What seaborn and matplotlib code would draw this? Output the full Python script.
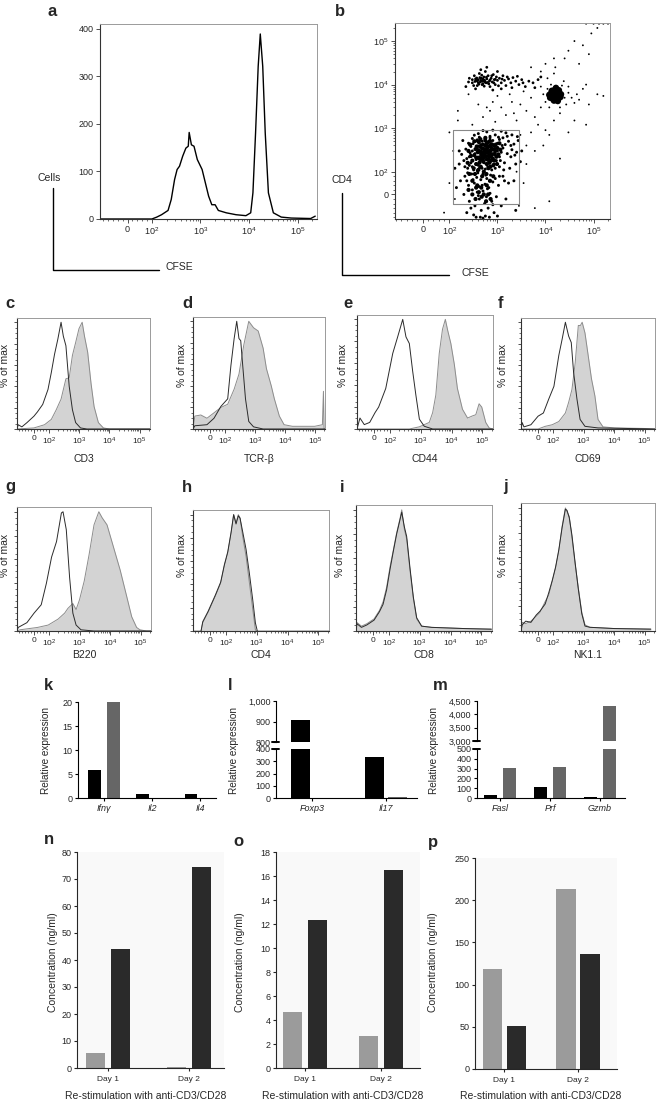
import pandas as pd
import matplotlib
matplotlib.use('Agg')
import matplotlib.pyplot as plt
import seaborn as sns
from matplotlib.lines import Line2D
from matplotlib.ticker import FixedLocator, NullFormatter

# ---------------- data ----------------
# a: CFSE histogram (CFSE, cells)
a_hist = [(-117, 0), (100, 0), (126, 4), (158, 9), (215, 18), (250, 41), (293, 83), (330, 104),
          (370, 111), (430, 132), (500, 149), (560, 153), (585, 182), (650, 156), (735, 153),
          (860, 125), (1080, 104), (1260, 76), (1470, 48), (1710, 30), (2000, 30), (2330, 18),
          (3400, 13), (5400, 9), (8600, 7), (10800, 13), (12000, 55), (13600, 181), (15400, 321),
          (17000, 389), (19100, 321), (21500, 181), (25000, 55), (31600, 13), (46000, 4),
          (74000, 2), (185000, 1), (230000, 6)]

# b: CFSE vs CD4 dot plot
gate = [120, 2750, -43, 900]  # CFSE from/to, CD4 from/to
low_pts = [(400, 750), (600, 820), (900, 700), (1200, 850), (700, 650), (1500, 780), (500, 880),
           (2000, 700), (330, 690), (1050, 620), (800, 900), (2600, 640), (250, 450), (350, 500),
           (450, 420), (550, 560), (650, 480), (800, 520), (1000, 450), (1300, 600), (1700, 500),
           (2200, 430), (300, 580), (700, 600), (900, 380), (1100, 550), (600, 400), (420, 620),
           (380, 540), (750, 440), (480, 500), (1450, 420), (190, 520), (2700, 520), (180, 250),
           (220, 330), (260, 220), (300, 300), (340, 260), (380, 350), (420, 220), (460, 300),
           (500, 250), (550, 340), (600, 230), (650, 290), (700, 370), (750, 260), (820, 320),
           (900, 240), (1000, 300), (1100, 220), (1300, 350), (1600, 260), (2000, 320), (2500, 280),
           (280, 380), (400, 390), (520, 200), (620, 360), (780, 210), (350, 210), (450, 360),
           (580, 280), (680, 220), (850, 390), (160, 300), (1200, 280), (1900, 220), (3200, 300),
           (160, 150), (200, 180), (240, 120), (280, 160), (320, 110), (360, 190), (400, 140),
           (440, 170), (480, 120), (530, 160), (580, 190), (630, 130), (700, 170), (760, 110),
           (840, 150), (950, 180), (1100, 130), (1400, 160), (1800, 120), (2400, 150), (230, 200),
           (300, 130), (380, 105), (460, 190), (560, 115), (660, 175), (900, 120), (260, 140),
           (420, 120), (500, 185), (130, 120), (3000, 170), (170, 60), (210, 80), (250, 40),
           (290, 90), (330, 50), (370, 75), (410, 35), (450, 65), (500, 90), (550, 45), (600, 70),
           (660, 30), (720, 85), (800, 55), (900, 70), (1050, 40), (1300, 80), (1700, 50), (240, 95),
           (310, 65), (390, 95), (480, 40), (570, 85), (680, 60), (140, 30), (2200, 60), (200, 0),
           (260, -30), (300, 20), (340, -50), (380, 10), (420, -20), (460, -70), (500, 15),
           (540, -40), (590, -10), (640, -60), (700, 5), (760, -30), (850, -80), (950, -10),
           (1200, -50), (320, -90), (440, -100), (560, -95), (680, -100), (280, -60), (400, -5),
           (620, 25), (800, -45), (1500, -20), (230, -80), (360, -100), (500, -105), (1000, -95),
           (2400, -70), (1150, 180), (1250, 400), (1350, 110), (1600, 650), (1900, 400),
           (2300, 240), (270, 270), (310, 440), (210, 130), (230, 60), (1400, 60), (1100, 80)]
core_pts = [(300, 180), (330, 240), (360, 150), (390, 280), (420, 200), (450, 130), (480, 260),
            (510, 170), (540, 320), (570, 220), (600, 150), (630, 270), (660, 200), (700, 300),
            (740, 180), (780, 250), (820, 140), (860, 330), (350, 330), (400, 110), (440, 380),
            (470, 210), (520, 100), (560, 400), (610, 340), (650, 120), (690, 240), (720, 400),
            (760, 320), (800, 200), (880, 260), (320, 120), (380, 210), (430, 290), (490, 340),
            (550, 260), (590, 90), (640, 380), (680, 160), (730, 230), (340, 90), (410, 310),
            (460, 250), (530, 230), (580, 310), (620, 190), (670, 290), (710, 130), (750, 350),
            (900, 300), (280, 230), (370, 380), (500, 420), (600, 450), (450, 190), (950, 220),
            (520, 280), (420, 160), (300, 60), (480, 80), (600, 40), (380, 40), (700, 60),
            (240, 160), (250, 300), (260, 90), (270, 420), (330, 500), (360, 30), (410, 480),
            (460, 30), (560, 520), (640, 470), (700, 510), (780, 420), (820, 80), (860, 180),
            (920, 420), (980, 150), (1000, 350), (1050, 250), (1100, 450), (1150, 320),
            (300, 0), (350, -20), (410, 10), (470, -10), (520, 0), (580, -30), (640, 0),
            (720, -20), (250, 20), (560, 600), (440, 560)]
up_pts = [(220, 9000), (260, 14000), (300, 11000), (330, 16000), (360, 12500), (380, 9500),
          (400, 13000), (420, 18000), (440, 11500), (460, 14000), (480, 12000), (500, 10500),
          (520, 15000), (540, 12500), (560, 20000), (580, 11000), (600, 13500), (640, 16000),
          (680, 12000), (700, 9000), (740, 14000), (780, 11500), (820, 17000), (860, 13000),
          (900, 10000), (950, 15000), (1000, 12500), (1100, 14000), (1200, 11000), (1300, 16000),
          (1400, 12500), (1500, 9500), (1700, 13500), (1900, 11000), (2100, 14500), (2400, 12000),
          (2800, 10000), (3200, 13000), (3800, 9000), (4500, 12000), (350, 8000), (450, 22000),
          (600, 25000), (800, 7500), (1000, 20000), (1200, 8000), (350, 13500), (400, 11000),
          (450, 12500), (500, 13500), (550, 11500), (380, 12000), (430, 14500), (480, 10000),
          (520, 12200), (620, 11200), (700, 12800), (900, 13200), (1600, 15000), (2000, 8500),
          (5500, 11000), (7000, 13000), (6000, 8500), (8000, 15000), (250, 11500), (300, 13000),
          (320, 9500), (340, 11800), (370, 14200), (410, 10200), (470, 16500), (530, 9200),
          (590, 14800), (660, 10400), (760, 16000), (840, 11000), (1050, 9400), (1250, 13400),
          (2600, 15500), (3400, 11000)]
blob_pts = [(16000, 6000), (14000, 5500), (18000, 5500), (15000, 7000), (17500, 6800),
            (13000, 6200), (19500, 6300), (16500, 4800), (14500, 4600), (18500, 4700),
            (16000, 7800), (12500, 5000), (20500, 5200), (15500, 5200), (17000, 6200),
            (13500, 7200), (19000, 7400), (21000, 6000), (12000, 5800), (16500, 8400),
            (15000, 4300), (18000, 4200), (17000, 5800), (14800, 6500), (19800, 5600)]
sparse_pts = [(9000, 6000), (11000, 8000), (25000, 5000), (30000, 6500), (22000, 9500),
              (13000, 10000), (10000, 4000), (27000, 3500), (35000, 5000), (40000, 3800),
              (24000, 12000), (12000, 3000), (20000, 3000), (45000, 6000), (8000, 9000),
              (30000, 9000), (11000, 14000), (15000, 18000), (16000, 25000), (60000, 8000),
              (80000, 3500), (120000, 6000), (160000, 5500), (50000, 4500), (70000, 10000),
              (40000, 1500), (20000, 2200), (150, 1500), (300, 1200), (500, 1800), (700, 2500),
              (900, 1400), (1200, 3000), (1500, 2000), (2000, 4000), (2500, 1500), (3000, 3500),
              (4000, 2500), (5000, 5000), (6000, 1800), (8000, 3000), (800, 4000), (400, 3500),
              (1800, 6000), (3500, 7000), (250, 6000), (1000, 5500), (600, 3000), (2200, 2200),
              (150, 2500), (5000, 800), (7000, 1200), (10000, 900), (12000, 700), (9000, 400),
              (4000, 400), (3000, 700), (6000, 300), (2500, 100), (4000, 150), (2800, -50),
              (3500, 50), (100, 800), (120, 300), (130, -20), (100, 50), (80, -80),
              (30000, 60000), (40000, 100000), (60000, 80000), (90000, 150000), (120000, 200000),
              (70000, 250000), (100000, 250000), (130000, 250000), (160000, 250000),
              (200000, 250000), (50000, 30000), (25000, 40000), (80000, 50000), (8000, 20000),
              (10000, 30000), (5000, 25000), (15000, 40000), (70000, 1200), (20000, 200),
              (12000, -30), (30000, 800), (15000, 1500), (6000, -60)]

# c-j: % of max histograms (marker value, % of max); fill = stained, open = control
cd3_fill = [(-115, 0), (0, 1), (70, 4), (119, 9), (173, 18), (250, 28), (362, 47), (465, 48),
            (595, 69), (760, 81), (980, 94), (1250, 100), (1490, 87), (1900, 72), (2450, 43),
            (3100, 21), (4300, 6), (6300, 1), (10000, 0), (220000, 0)]
cd3_open = [(-115, 0), (-105, 4), (-80, 2), (-46, 6), (0, 12), (23, 16), (58, 23), (93, 37),
            (119, 53), (152, 70), (195, 84), (250, 100), (297, 87), (362, 78), (465, 40),
            (595, 18), (760, 6), (1100, 1), (1800, 0), (220000, 0)]
tcrb_fill = [(-115, 0), (-100, 12), (-60, 13), (-19, 10), (28, 15), (74, 20), (125, 23),
             (205, 37), (297, 51), (430, 78), (630, 100), (910, 94), (1300, 91), (1900, 75),
             (2450, 56), (3550, 40), (4500, 28), (6600, 12), (9500, 4), (18000, 2.5),
             (100000, 2.5), (180000, 4), (195000, 35), (205000, 0), (220000, 0)]
tcrb_open = [(-115, 0), (-100, 3), (-19, 4), (28, 10), (74, 21), (125, 28), (160, 59),
             (205, 84), (250, 100), (297, 84), (340, 82), (380, 65), (490, 28), (630, 7),
             (910, 2), (1900, 0), (220000, 0)]
cd44_fill = [(-115, 0), (430, 0), (910, 2), (1900, 6), (2450, 15), (3100, 31), (4000, 69),
             (5100, 91), (6300, 100), (7500, 90), (9500, 78), (12300, 59), (15500, 37),
             (22600, 18), (33000, 10), (48000, 12), (61000, 13), (78000, 23), (95000, 20),
             (128000, 6), (165000, 1), (210000, 0), (220000, 0)]
cd44_open = [(-115, 0), (-93, 10), (-65, 4), (-30, 6), (5, 15), (28, 20), (74, 37), (125, 69),
             (180, 84), (263, 100), (335, 84), (430, 78), (550, 53), (700, 31), (910, 9),
             (1310, 2.5), (2450, 0), (220000, 0)]
cd69_fill = [(-115, 0), (0, 0), (47, 2.5), (93, 4), (152, 7), (250, 15), (320, 25), (410, 37),
             (525, 62), (665, 97), (780, 97), (890, 100), (1100, 90), (1400, 69), (1800, 47),
             (2330, 31), (2950, 9), (4300, 2), (10300, 1), (96000, 0.5), (220000, 0)]
cd69_open = [(-115, 0), (-105, 6), (-93, 2), (-47, 4), (0, 12), (35, 15), (70, 28), (105, 40),
             (152, 69), (195, 84), (250, 100), (320, 87), (390, 81), (465, 53), (600, 28),
             (760, 9), (1100, 2.5), (2950, 1), (220000, 0)]
b220_fill = [(-115, 0), (-93, 1), (23, 3), (93, 5), (195, 10), (320, 15), (410, 19), (595, 23),
             (760, 18), (980, 26), (1410, 42), (2030, 64), (2950, 89), (4250, 100), (5450, 95),
             (7900, 89), (13000, 70), (21400, 51), (35000, 29), (51000, 12), (74000, 3),
             (95000, 1), (155000, 0), (220000, 0)]
b220_open = [(-115, 0), (-105, 3), (-47, 7), (0, 15), (47, 22), (81, 40), (119, 62), (173, 75),
             (250, 99), (283, 100), (362, 85), (465, 45), (595, 15), (760, 5), (1100, 1),
             (2950, 0), (220000, 0)]
cd4_fill = [(-115, 0), (-60, 0), (-49, 7), (-14, 16), (33, 30), (67, 41), (91, 56), (116, 67),
            (149, 84), (180, 100), (215, 93), (255, 100), (290, 97), (355, 81), (455, 64),
            (585, 41), (745, 19), (910, 1), (1000, 0), (220000, 0)]
cd4_open = [(-60, 0), (-49, 8), (-14, 17), (33, 31), (67, 42), (91, 57), (116, 68), (149, 85),
            (180, 100), (215, 92), (255, 99), (290, 97), (355, 85), (455, 70), (585, 49),
            (745, 27), (910, 7), (1050, 0)]
cd8_fill = [(-115, 0), (-107, 7), (-77, 4), (-42, 6), (5, 10), (40, 17), (63, 24), (86, 36),
            (110, 53), (141, 67), (180, 81), (232, 93), (263, 100), (320, 84), (380, 76),
            (487, 50), (625, 27), (800, 10), (1160, 4), (2450, 3), (29000, 2), (210000, 1.5)]
cd8_open = [(-115, 0), (-107, 6), (-77, 3), (-42, 5), (5, 9), (40, 16), (63, 22), (86, 34),
            (110, 51), (141, 66), (180, 80), (232, 92), (263, 98), (320, 86), (380, 78),
            (487, 52), (625, 28), (800, 11), (1160, 4), (2450, 3), (29000, 2), (210000, 1.5)]
nk_fill = [(-115, 0), (-105, 7), (-81, 6), (-47, 8), (-12, 12), (12, 15), (47, 24), (70, 29),
           (93, 40), (119, 51), (152, 65), (195, 85), (250, 100), (283, 97), (335, 93), (410, 76),
           (525, 54), (665, 35), (865, 15), (1100, 5), (1600, 3), (10000, 2), (160000, 1.5)]
nk_open = [(-115, 0), (-105, 5), (-81, 8), (-47, 7), (-12, 13), (12, 16), (47, 22), (70, 31),
           (93, 41), (119, 52), (152, 66), (195, 84), (250, 99), (283, 98), (335, 92), (410, 78),
           (525, 55), (665, 34), (865, 14), (1100, 4), (1600, 3), (10000, 2), (160000, 1.5)]

# k-m: relative expression
k_genes = ['Ifnγ', 'Il2', 'Il4']
k_black = [5.8, 0.9, 0.9]
k_gray = [20.0, 0.0, 0.0]
l_genes = ['Foxp3', 'Il17']
l_black = [905, 335]
l_gray = [0, 6]
m_genes = ['Fasl', 'Prf', 'Gzmb']
m_black = [30, 110, 8]
m_gray = [310, 320, 4300]

# n-p: cytokine concentrations
days = ['Day 1', 'Day 2']
n_light = [5.5, 0.5]
n_dark = [44.0, 74.5]
o_light = [4.7, 2.7]
o_dark = [12.3, 16.5]
p_light = [118, 213]
p_dark = [51, 136]

# ---------------- style ----------------
sns.set_style('ticks')
plt.rcParams['font.family'] = ['Liberation Sans', 'DejaVu Sans']
plt.rcParams['mathtext.fontset'] = 'custom'
plt.rcParams['mathtext.rm'] = 'Liberation Sans'
plt.rcParams['mathtext.it'] = 'Liberation Sans:italic'
plt.rcParams['axes.linewidth'] = 0.8

W, H = 657, 1101
fig = plt.figure(figsize=(W / 100, H / 100), dpi=100)


def add_ax(l, t, r, b):
    return fig.add_axes([l / W, 1 - b / H, (r - l) / W, (b - t) / H])


def ftext(x, y, s, **kw):
    kw.setdefault('ha', 'center')
    kw.setdefault('va', 'center')
    fig.text(x / W, 1 - y / H, s, **kw)


def fline(xs, ys):
    fig.add_artist(Line2D([x / W for x in xs], [1 - y / H for y in ys],
                          transform=fig.transFigure, color='black', lw=1))


LOG_MINORS = [-100, -80, -60, -40, -20, 20, 40, 60, 80] + \
    [k * 10 ** e for e in (2, 3, 4) for k in range(2, 10)] + [2e5]
FLOW_LABELS = ['0', r'$10^2$', r'$10^3$', r'$10^4$', r'$10^5$']


def flow_axis(ax, axis, fs):
    ax_ = ax.xaxis if axis == 'x' else ax.yaxis
    ax_.set_major_locator(FixedLocator([0, 1e2, 1e3, 1e4, 1e5]))
    ax_.set_minor_locator(FixedLocator(LOG_MINORS))
    ax_.set_minor_formatter(NullFormatter())
    ax_.set_ticklabels(FLOW_LABELS, fontsize=fs)


def flow_frame(ax):
    for s in ['left', 'bottom']:
        ax.spines[s].set_color('#333333')
    for s in ['top', 'right']:
        ax.spines[s].set_color('#9a9a9a')
        ax.spines[s].set_linewidth(0.7)
    ax.tick_params(which='major', length=3, width=0.6, pad=1.5, color='#333333')
    ax.tick_params(which='minor', length=1.5, width=0.5, color='#333333')


# ---------------- a ----------------
ax = add_ax(100, 24, 317, 219)
ax.set_xscale('symlog', linthresh=100, linscale=0.45)
x, y = zip(*a_hist)
sns.lineplot(x=list(x), y=list(y), sort=False, estimator=None, color='black', lw=1, ax=ax)
ax.set_xlim(-117, 2.5e5)
ax.set_ylim(0, 410)
flow_axis(ax, 'x', 6.5)
ax.set_yticks([0, 100, 200, 300, 400])
ax.set_yticklabels(['0', '100', '200', '300', '400'], fontsize=6.5)
ax.set_xlabel('')
ax.set_ylabel('')
flow_frame(ax)
ftext(52, 11, 'a', fontsize=12, fontweight='bold')
ftext(49, 178, 'Cells', fontsize=7.5)
ftext(166, 267, 'CFSE', fontsize=7.5, ha='left')
fline([53, 53, 159], [188, 270, 270])

# ---------------- b ----------------
ax = add_ax(395, 23, 610, 219)
ax.set_xscale('symlog', linthresh=100, linscale=0.5)
ax.set_yscale('symlog', linthresh=100, linscale=0.47)
for pts, size in [(sparse_pts, 1.8), (low_pts, 4.5), (up_pts, 4), (core_pts, 9), (blob_pts, 22)]:
    px, py = zip(*pts)
    sns.scatterplot(x=list(px), y=list(py), s=size, color='black', edgecolor='none',
                    linewidth=0, ax=ax)
g0, g1, g2, g3 = gate
ax.plot([g0, g1, g1, g0, g0], [g2, g2, g3, g3, g2], color='#888888', lw=0.8)
ax.set_xlim(-105, 2.2e5)
ax.set_ylim(-110, 2.6e5)
flow_axis(ax, 'x', 6.5)
flow_axis(ax, 'y', 6.5)
ax.set_xlabel('')
ax.set_ylabel('')
flow_frame(ax)
ftext(340, 11, 'b', fontsize=12, fontweight='bold')
ftext(342, 180, 'CD4', fontsize=7.5)
ftext(462, 273, 'CFSE', fontsize=7.5, ha='left')
fline([342, 342, 449], [193, 275, 275])

# ---------------- c-j ----------------
hist_panels = [
    ('c', 'CD3', cd3_fill, cd3_open, (17, 318, 150, 429), 5, 303, 5, 365, 459),
    ('d', 'TCR-β', tcrb_fill, tcrb_open, (193, 317, 325, 429), 182, 303, 182, 365, 459),
    ('e', 'CD44', cd44_fill, cd44_open, (357, 315, 493, 429), 343, 303, 343, 365, 459),
    ('f', 'CD69', cd69_fill, cd69_open, (521, 318, 655, 429), 498, 303, 503, 365, 459),
    ('g', 'B220', b220_fill, b220_open, (17, 507, 151, 631), 5, 487, 5, 555, 655),
    ('h', 'CD4', cd4_fill, cd4_open, (193, 510, 329, 631), 182, 487, 182, 555, 655),
    ('i', 'CD8', cd8_fill, cd8_open, (356, 505, 492, 631), 340, 487, 340, 555, 655),
    ('j', 'NK1.1', nk_fill, nk_open, (521, 503, 655, 631), 503, 487, 503, 555, 655),
]
for lab, name, fill, opn, box, lx, ly, yx, yy, xly in hist_panels:
    ax = add_ax(*box)
    ax.set_xscale('symlog', linthresh=100, linscale=0.45)
    fx, fy = zip(*fill)
    ax.fill_between(fx, fy, 0, color='#d3d3d3', lw=0)
    sns.lineplot(x=list(fx), y=list(fy), sort=False, estimator=None, color='#8c8c8c', lw=0.7, ax=ax)
    ox, oy = zip(*opn)
    sns.lineplot(x=list(ox), y=list(oy), sort=False, estimator=None, color='#2b2b2b', lw=0.7, ax=ax)
    ax.set_xlim(-115, 2.2e5)
    ax.set_ylim(0, 104)
    flow_axis(ax, 'x', 6)
    ax.set_yticks([0, 20, 40, 60, 80, 100])
    ax.set_yticks(list(range(0, 101, 5)), minor=True)
    ax.set_yticklabels([])
    ax.set_xlabel('')
    ax.set_ylabel('')
    flow_frame(ax)
    ax.tick_params(axis='y', which='major', length=2.5)
    ftext(lx, ly, lab, fontsize=12, fontweight='bold', ha='left')
    ftext(yx, yy, '% of max', fontsize=7.5, rotation=90)
    ftext((box[0] + box[2]) / 2, xly, name, fontsize=7.5)


# ---------------- k-m ----------------
def expr_bars(ax, cats, black, gray, width, gap):
    df = pd.DataFrame({'gene': cats * 2, 'grp': ['x'] * len(cats) + ['y'] * len(cats),
                       'val': black + gray})
    sns.barplot(data=df, x='gene', y='val', hue='grp', palette=['#000000', '#666666'],
                width=width, gap=gap, errorbar=None, legend=False, saturation=1,
                edgecolor='none', linewidth=0, ax=ax)
    ax.set_xlabel('')
    ax.set_ylabel('')
    ax.tick_params(labelsize=6.5, length=2.5, width=0.8, pad=1.5, color='black')
    for s in ['left', 'bottom']:
        ax.spines[s].set_color('black')
    sns.despine(ax=ax)


def italic_labels(ax, cats):
    ax.set_xticks(range(len(cats)))
    ax.set_xticklabels(cats, fontsize=6.5, style='italic')


# k
ax = add_ax(78, 702, 216, 798)
expr_bars(ax, k_genes, k_black, k_gray, 0.76, 0.29)
ax.set_xlim(-0.54, 2.33)
ax.set_ylim(0, 20)
ax.set_yticks([0, 5, 10, 15, 20])
italic_labels(ax, k_genes)
ftext(48, 686, 'k', fontsize=12, fontweight='bold')
ftext(46, 750, 'Relative expression', fontsize=7.2, rotation=90)


def broken(upper_box, lower_box, cats, black, gray, width, gap, xl, up_lim, up_ticks,
           lo_lim, lo_ticks, fmt):
    axl = add_ax(*lower_box)
    expr_bars(axl, cats, black, gray, width, gap)
    axl.set_xlim(*xl)
    axl.set_ylim(*lo_lim)
    axl.set_yticks(lo_ticks)
    axl.set_yticklabels([fmt(v) for v in lo_ticks])
    italic_labels(axl, cats)
    axu = add_ax(*upper_box)
    expr_bars(axu, cats, black, gray, width, gap)
    axu.set_xlim(*xl)
    axu.set_ylim(*up_lim)
    axu.set_yticks(up_ticks)
    axu.set_yticklabels([fmt(v) for v in up_ticks])
    axu.spines['bottom'].set_visible(False)
    axu.tick_params(axis='x', bottom=False, labelbottom=False)
    for a_, yy in [(axu, 0), (axl, 1)]:
        a_.plot([-0.03, 0.02], [yy, yy], transform=a_.transAxes, color='black', lw=1.4,
                clip_on=False)


def comma(v):
    return f'{v:,}'


# l
broken((276, 701, 417, 742), (276, 749, 417, 798), l_genes, l_black, l_gray, 0.64, 0.2,
       (-0.49, 1.42), (800, 1000), [800, 900, 1000], (0, 400), [0, 100, 200, 300, 400], comma)
ftext(230, 686, 'l', fontsize=12, fontweight='bold')
ftext(234, 750, 'Relative expression', fontsize=7.2, rotation=90)

# m
broken((477, 701, 625, 741), (477, 749, 625, 798), m_genes, m_black, m_gray, 0.76, 0.29,
       (-0.46, 2.5), (3000, 4500), [3000, 3500, 4000, 4500], (0, 500),
       [0, 100, 200, 300, 400, 500], comma)
ftext(440, 686, 'm', fontsize=12, fontweight='bold')
ftext(434, 750, 'Relative expression', fontsize=7.2, rotation=90)


# ---------------- n-p ----------------
def conc_bars(box, light, dark, width, gap, xl, ylim, step, lab, lx, ly, ylx):
    ax = add_ax(*box)
    df = pd.DataFrame({'day': days * 2, 'grp': ['x'] * 2 + ['y'] * 2, 'val': light + dark})
    sns.barplot(data=df, x='day', y='val', hue='grp', palette=['#9b9b9b', '#2a2a2a'],
                width=width, gap=gap, errorbar=None, legend=False, saturation=1,
                edgecolor='none', linewidth=0, ax=ax)
    ax.set_facecolor('#f9f9f9')
    ax.set_xlim(*xl)
    ax.set_ylim(0, ylim)
    ax.set_yticks(list(range(0, ylim + 1, step)))
    ax.set_xlabel('')
    ax.set_ylabel('')
    ax.tick_params(axis='y', labelsize=6.5, length=2.5, width=0.8, pad=1.5)
    ax.tick_params(axis='x', labelsize=6, length=2.5, width=0.8, pad=3)
    sns.despine(ax=ax)
    ftext(lx, ly, lab, fontsize=12, fontweight='bold')
    ftext(ylx, 962, 'Concentration (ng/ml)', fontsize=7.5, rotation=90)
    ftext((box[0] + box[2]) / 2 - 5, 1096, 'Re-stimulation with anti-CD3/CD28', fontsize=7.5)


conc_bars((77, 852, 224, 1068), n_light, n_dark, 0.62, 0.26, (-0.38, 1.43), 80, 10,
          'n', 49, 840, 53)
conc_bars((276, 852, 420, 1068), o_light, o_dark, 0.66, 0.24, (-0.38, 1.52), 18, 2,
          'o', 238, 842, 240)
conc_bars((475, 858, 617, 1069), p_light, p_dark, 0.65, 0.2, (-0.40, 1.53), 250, 50,
          'p', 433, 843, 433)

fig.savefig('out.png', dpi=100)
